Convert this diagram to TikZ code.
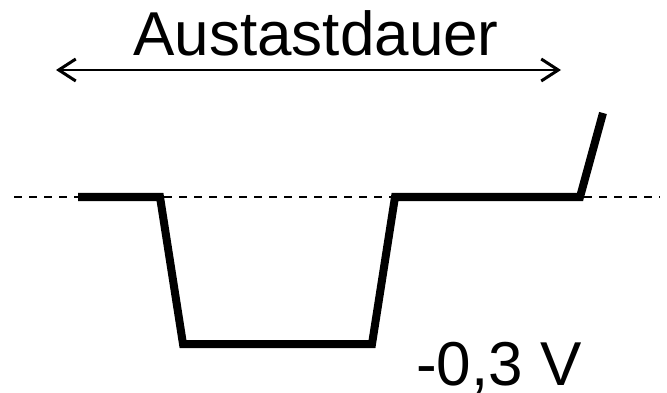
\documentclass[tikz,border=0pt]{standalone}
\usepackage{fontspec}
\setmainfont{Liberation Sans}
\usetikzlibrary{arrows.meta}
\begin{document}
\begin{tikzpicture}[x=1pt,y=-1pt,
  baseline/.style={line width=2pt,dash pattern=on 8pt off 7pt},
  signal/.style={line width=8pt,line join=miter},
  span/.style={line width=2pt,{Straight Barb[length=17pt,width=22pt,line width=3pt]}-{Straight Barb[length=17pt,width=22pt,line width=3pt]}},
  label/.style={font=\fontsize{62}{62}\selectfont,inner sep=0pt,anchor=base}]
\useasboundingbox (0,0) rectangle (667,393);

% reference level
\coordinate (d1) at (14,197);
\coordinate (d2) at (660,197);
\draw[baseline] (d1) -- (d2);

% signal trace
\coordinate (w1) at (78,197);
\coordinate (w2) at (160,197);
\coordinate (w3) at (183,344);
\coordinate (w4) at (372,344);
\coordinate (w5) at (395,197);
\coordinate (w6) at (580,197);
\coordinate (w7) at (603,113);
\draw[signal] (w1) -- (w2) -- (w3) -- (w4) -- (w5) -- (w6) -- (w7);

% duration marker
\coordinate (a1) at (56,70);
\coordinate (a2) at (561,70);
\draw[span] (a1) -- (a2);
\node[label] (title) at (316,56) {Austastdauer};
\node[label] (level) at (499,385) {-0,3 V};
\end{tikzpicture}
\end{document}
